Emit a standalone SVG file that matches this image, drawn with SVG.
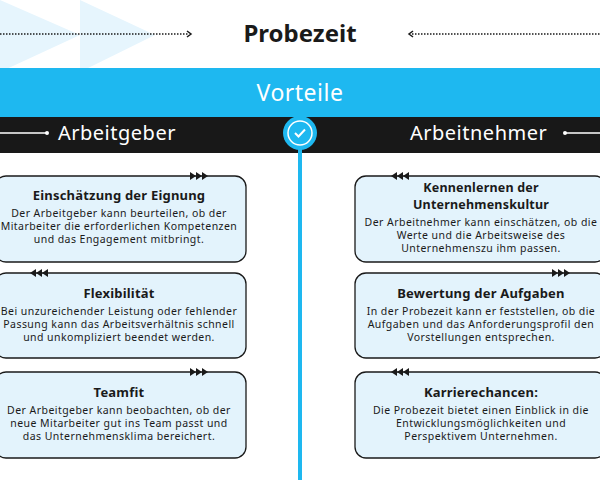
<svg xmlns="http://www.w3.org/2000/svg" width="600" height="480" viewBox="0 0 600 480">
<style>
.c{fill:#e3f3fc;stroke:#1a1a1a;stroke-width:1.3}
.t{font-family:"Noto Sans",sans-serif;font-weight:700;font-size:13px;fill:#1a1a1a;text-anchor:middle;letter-spacing:0.2px}
.b{font-family:"Noto Sans",sans-serif;font-size:10.5px;fill:#1a1a1a;text-anchor:middle;letter-spacing:0.45px}
.h{font-family:"Noto Sans",sans-serif;font-size:20px;fill:#fff;letter-spacing:0.5px}
.a{fill:#1a1a1a}
</style>
<rect width="600" height="480" fill="#fff"/>
<polygon points="0,0 80,35 0,72" fill="#e6f5fd"/>
<polygon points="80,0 155,35 80,72" fill="#e6f5fd"/>
<g id="title">
<line x1="0" y1="34" x2="188" y2="34" stroke="#1a1a1a" stroke-width="1.5" stroke-dasharray="1.5 1.5"/>
<path d="M187,31 L191,34 L187,37" fill="none" stroke="#1a1a1a" stroke-width="1.5"/>
<line x1="412" y1="34" x2="600" y2="34" stroke="#1a1a1a" stroke-width="1.5" stroke-dasharray="1.5 1.5"/>
<path d="M413,31 L409,34 L413,37" fill="none" stroke="#1a1a1a" stroke-width="1.5"/>
<text x="300" y="42" text-anchor="middle" font-family="Noto Sans,sans-serif" font-weight="700" font-size="24" fill="#1a1a1a">Probezeit</text>
</g>
<rect x="0" y="68" width="600" height="49" fill="#1eb8f0"/>
<text x="300" y="101" text-anchor="middle" class="h" style="font-size:23px">Vorteile</text>
<rect x="0" y="117" width="600" height="36" fill="#181818"/>
<g id="connectors">
<line x1="300" y1="140" x2="300" y2="480" stroke="#1eb8f0" stroke-width="4"/>
<line x1="0" y1="133" x2="46" y2="133" stroke="#fff" stroke-width="1.3"/>
<circle cx="47" cy="133" r="2" fill="#fff"/>
<line x1="566" y1="133" x2="600" y2="133" stroke="#fff" stroke-width="1.3"/>
<circle cx="565" cy="133" r="2" fill="#fff"/>
</g>
<text x="58" y="140" class="h">Arbeitgeber</text>
<text x="410" y="140" class="h">Arbeitnehmer</text>
<g id="check">
<circle cx="300" cy="133" r="17" fill="#1eb8f0"/>
<circle cx="300" cy="133" r="12" fill="none" stroke="#fff" stroke-width="1.5"/>
<path d="M295,133 L298.5,136.5 L305,129.5" fill="none" stroke="#fff" stroke-width="2"/>
</g>
<g id="l1"><rect class="c" x="-5" y="176" width="251" height="86" rx="11"/>
<path class="a" d="M190,172v8l6,-4z M196,172v8l6,-4z M202,172v8l6,-4z"/>
<text class="t" x="119" y="200">Einschätzung der Eignung</text>
<text class="b" x="119" y="217">Der Arbeitgeber kann beurteilen, ob der</text>
<text class="b" x="119" y="230">Mitarbeiter die erforderlichen Kompetenzen</text>
<text class="b" x="119" y="243">und das Engagement mitbringt.</text></g>
<g id="l2"><rect class="c" x="-5" y="273" width="251" height="85" rx="11"/>
<path class="a" d="M36,269v8l-6,-4z M42,269v8l-6,-4z M48,269v8l-6,-4z"/>
<text class="t" x="119" y="298">Flexibilität</text>
<text class="b" x="119" y="315">Bei unzureichender Leistung oder fehlender</text>
<text class="b" x="119" y="328">Passung kann das Arbeitsverhältnis schnell</text>
<text class="b" x="119" y="341">und unkompliziert beendet werden.</text></g>
<g id="l3"><rect class="c" x="-5" y="372" width="251" height="86" rx="11"/>
<path class="a" d="M190,368v8l6,-4z M196,368v8l6,-4z M202,368v8l6,-4z"/>
<text class="t" x="119" y="397">Teamfit</text>
<text class="b" x="119" y="414">Der Arbeitgeber kann beobachten, ob der</text>
<text class="b" x="119" y="427">neue Mitarbeiter gut ins Team passt und</text>
<text class="b" x="119" y="440">das Unternehmensklima bereichert.</text></g>
<g id="r1"><rect class="c" x="355" y="176" width="251" height="86" rx="11"/>
<path class="a" d="M397,172v8l-6,-4z M403,172v8l-6,-4z M409,172v8l-6,-4z"/>
<text class="t" x="481" y="192" style="font-size:12.5px">Kennenlernen der</text>
<text class="t" x="481" y="209" style="font-size:12.5px">Unternehmenskultur</text>
<text class="b" x="481" y="226">Der Arbeitnehmer kann einschätzen, ob die</text>
<text class="b" x="481" y="239">Werte und die Arbeitsweise des</text>
<text class="b" x="481" y="252">Unternehmenszu ihm passen.</text></g>
<g id="r2"><rect class="c" x="355" y="273" width="251" height="85" rx="11"/>
<path class="a" d="M552,269v8l6,-4z M558,269v8l6,-4z M564,269v8l6,-4z"/>
<text class="t" x="481" y="298">Bewertung der Aufgaben</text>
<text class="b" x="481" y="315">In der Probezeit kann er feststellen, ob die</text>
<text class="b" x="481" y="328">Aufgaben und das Anforderungsprofil den</text>
<text class="b" x="481" y="341">Vorstellungen entsprechen.</text></g>
<g id="r3"><rect class="c" x="355" y="372" width="251" height="86" rx="11"/>
<path class="a" d="M397,368v8l-6,-4z M403,368v8l-6,-4z M409,368v8l-6,-4z"/>
<text class="t" x="481" y="397">Karrierechancen:</text>
<text class="b" x="481" y="414">Die Probezeit bietet einen Einblick in die</text>
<text class="b" x="481" y="427">Entwicklungsmöglichkeiten und</text>
<text class="b" x="481" y="440">Perspektivem Unternehmen.</text></g>
</svg>
